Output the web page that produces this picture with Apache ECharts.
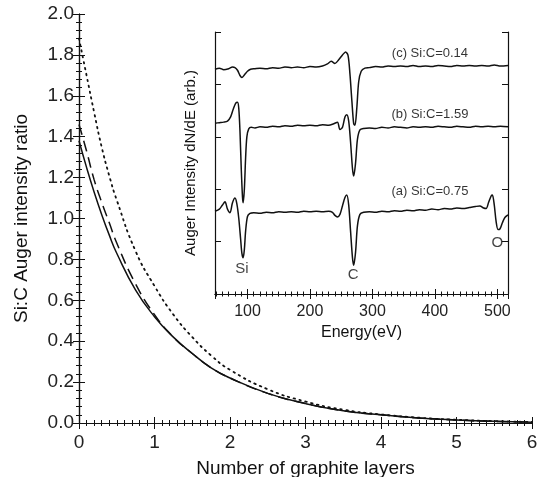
<!DOCTYPE html>
<html>
<head>
<meta charset="utf-8">
<script src="https://cdn.jsdelivr.net/npm/echarts@6/dist/echarts.min.js"></script>
<style>
  html, body { margin: 0; padding: 0; background: #fff; }
  #chart { width: 537px; height: 477px; }
</style>
</head>
<body>
<div id="chart"></div>
<script>
// main plot: Si:C ratio vs number of graphite layers
const layers = [0, 0.1, 0.2, 0.3, 0.4, 0.5, 0.75, 1, 1.25, 1.5, 1.75, 2, 2.5, 3, 3.5, 4, 4.5, 5, 5.5, 6]
const ratioSolid = [1.38, 1.25, 1.13, 1.02, 0.92, 0.83, 0.65, 0.52, 0.42, 0.34, 0.27, 0.22, 0.145, 0.095, 0.06, 0.04, 0.025, 0.015, 0.008, 0.004]
const ratioDashed = [1.46, 1.33, 1.19, 1.08, 0.98, 0.88, 0.68, 0.53, 0.42, 0.34, 0.27, 0.22, 0.145, 0.095, 0.06, 0.04, 0.025, 0.015, 0.008, 0.004]
const ratioDotted = [1.88, 1.70, 1.52, 1.35, 1.21, 1.09, 0.84, 0.67, 0.53, 0.42, 0.33, 0.26, 0.165, 0.105, 0.065, 0.042, 0.026, 0.016, 0.009, 0.005]

// inset: Auger spectra [energy eV, offset intensity]
const specC = [[48,4.29],[55,4.31],[62,4.28],[70,4.30],[76,4.33],[80,4.32],[84,4.27],[88,4.17],[91,4.13],[95,4.18],[100,4.25],[105,4.29],[112,4.30],[120,4.31],[130,4.30],[140,4.32],[150,4.31],[160,4.33],[170,4.32],[180,4.33],[190,4.32],[200,4.34],[210,4.33],[220,4.35],[228,4.39],[234,4.44],[240,4.40],[246,4.47],[252,4.56],[257,4.62],[261,4.55],[264,4.20],[267,3.70],[270,3.25],[272,3.22],[275,3.55],[278,4.05],[282,4.25],[288,4.31],[295,4.32],[305,4.34],[315,4.33],[325,4.35],[335,4.34],[345,4.35],[355,4.34],[365,4.36],[375,4.34],[385,4.35],[395,4.34],[405,4.36],[415,4.35],[425,4.34],[435,4.36],[445,4.35],[455,4.36],[465,4.35],[475,4.36],[485,4.35],[495,4.37],[505,4.35],[517,4.36]]
const specB = [[48,3.26],[55,3.27],[62,3.28],[68,3.30],[73,3.38],[77,3.52],[81,3.64],[84,3.66],[86,3.55],[88,3.10],[90,2.40],[92,1.85],[93,1.74],[95,2.00],[97,2.60],[99,3.00],[102,3.15],[106,3.18],[112,3.17],[120,3.19],[130,3.18],[140,3.20],[150,3.19],[160,3.21],[170,3.20],[180,3.22],[190,3.21],[200,3.22],[210,3.21],[220,3.23],[230,3.22],[238,3.25],[244,3.28],[248,3.14],[252,3.18],[256,3.38],[259,3.42],[262,3.30],[265,2.90],[268,2.40],[270,2.25],[273,2.50],[276,2.95],[280,3.13],[286,3.16],[295,3.17],[305,3.16],[315,3.18],[325,3.17],[335,3.19],[345,3.18],[355,3.17],[365,3.19],[375,3.18],[385,3.19],[395,3.18],[405,3.20],[415,3.19],[425,3.18],[435,3.20],[445,3.19],[455,3.18],[465,3.20],[475,3.19],[485,3.20],[495,3.19],[505,3.20],[517,3.19]]
const specA = [[48,1.58],[55,1.62],[60,1.70],[64,1.76],[68,1.62],[72,1.55],[76,1.74],[80,1.83],[83,1.72],[86,1.45],[89,1.05],[91,0.78],[93,0.69],[95,0.85],[97,1.20],[100,1.48],[104,1.54],[110,1.55],[120,1.54],[130,1.56],[140,1.55],[150,1.57],[160,1.56],[170,1.57],[180,1.56],[190,1.58],[200,1.57],[210,1.58],[220,1.57],[230,1.58],[236,1.56],[240,1.50],[244,1.47],[248,1.52],[252,1.68],[256,1.84],[259,1.89],[262,1.70],[265,1.20],[268,0.70],[270,0.55],[273,0.80],[276,1.30],[280,1.52],[286,1.56],[295,1.57],[305,1.56],[315,1.58],[325,1.57],[335,1.59],[345,1.58],[355,1.60],[365,1.59],[375,1.61],[385,1.60],[395,1.62],[405,1.61],[415,1.63],[425,1.62],[435,1.64],[445,1.63],[455,1.65],[465,1.67],[472,1.68],[478,1.64],[482,1.63],[486,1.75],[490,1.87],[492,1.89],[495,1.70],[498,1.38],[501,1.23],[504,1.24],[508,1.36],[512,1.46],[517,1.51]]

// annotation texts and their anchors in data units
const sampleLabels = ['(c) Si:C=0.14', '(b) Si:C=1.59', '(a) Si:C=0.75']
const sampleAnchors = [[392, 4.60], [392, 3.42], [392, 1.95]]
const peakLabels = ['Si', 'C', 'O']
const peakAnchors = [[91, 0.48], [269, 0.36], [500, 0.97]]

const FONT = 'Liberation Sans, Arial, sans-serif'
const INK = '#111'

function pairs(xs, ys) {
  return xs.map((x, i) => [x, ys[i]])
}

const chart = echarts.init(document.getElementById('chart'))

const lineAxis = { show: true, lineStyle: { color: INK, width: 1.2 } }

const option = {
  backgroundColor: '#fff',
  animation: false,
  textStyle: { fontFamily: FONT },
  grid: [
    { left: 79, right: 5, top: 14, bottom: 54, containLabel: false, outerBoundsMode: 'none' },
    {
      left: 215, right: 29, top: 32, bottom: 183, containLabel: false, outerBoundsMode: 'none',
      show: true, backgroundColor: '#fff', borderWidth: 0, z: 4
    }
  ],
  xAxis: [
    {
      // main bottom
      type: 'value', gridIndex: 0, min: 0, max: 6, interval: 1,
      position: 'bottom',
      name: 'Number of graphite layers', nameLocation: 'middle', nameGap: 36,
      nameTextStyle: { fontSize: 19, color: INK, fontFamily: FONT },
      axisLine: lineAxis,
      axisTick: { inside: true, length: 6, lineStyle: { color: INK } },
      minorTick: { show: true, splitNumber: 10, length: 3, lineStyle: { color: INK } },
      axisLabel: { fontSize: 19, color: '#222', margin: 10, fontFamily: FONT },
      splitLine: { show: false }
    },
    {
      // main top (ticks only)
      type: 'value', gridIndex: 0, min: 0, max: 6, interval: 1,
      position: 'top',
      axisLine: lineAxis,
      axisTick: { inside: true, length: 6, lineStyle: { color: INK } },
      minorTick: { show: true, splitNumber: 10, length: 3, lineStyle: { color: INK } },
      axisLabel: { show: false },
      splitLine: { show: false }
    },
    {
      // inset bottom
      type: 'value', gridIndex: 1, min: 48, max: 517,
      position: 'bottom', z: 6,
      name: 'Energy(eV)', nameLocation: 'middle', nameGap: 29,
      nameTextStyle: { fontSize: 16, color: INK, fontFamily: FONT },
      axisLine: lineAxis,
      axisTick: { inside: true, length: 5, lineStyle: { color: INK } },
      minorTick: { show: true, splitNumber: 10, length: 2.5, lineStyle: { color: INK } },
      axisLabel: {
        fontSize: 16, color: '#222', margin: 10, fontFamily: FONT,
        showMinLabel: false, showMaxLabel: false,
        formatter: v => (v % 100 === 0 ? String(v) : '')
      },
      splitLine: { show: false }
    },
    {
      // inset top
      type: 'value', gridIndex: 1, min: 48, max: 517,
      position: 'top', z: 6,
      axisLine: lineAxis,
      axisTick: { inside: true, length: 5, lineStyle: { color: INK } },
      minorTick: { show: true, splitNumber: 10, length: 2.5, lineStyle: { color: INK } },
      axisLabel: { show: false },
      splitLine: { show: false }
    }
  ],
  yAxis: [
    {
      type: 'value', gridIndex: 0, min: 0, max: 2, interval: 0.2,
      position: 'left',
      name: 'Si:C Auger intensity ratio', nameLocation: 'middle', nameGap: 48,
      nameTextStyle: { fontSize: 19, color: INK, fontFamily: FONT },
      axisLine: lineAxis,
      axisTick: { inside: true, length: 6, lineStyle: { color: INK } },
      minorTick: { show: true, splitNumber: 5, length: 3, lineStyle: { color: INK } },
      axisLabel: { fontSize: 19, color: '#222', margin: 5, fontFamily: FONT, formatter: v => v.toFixed(1) },
      splitLine: { show: false }
    },
    {
      type: 'value', gridIndex: 0, min: 0, max: 2, interval: 0.2,
      position: 'right',
      axisLine: lineAxis,
      axisTick: { inside: true, length: 6, lineStyle: { color: INK } },
      minorTick: { show: true, splitNumber: 5, length: 3, lineStyle: { color: INK } },
      axisLabel: { show: false },
      splitLine: { show: false }
    },
    {
      type: 'value', gridIndex: 1, min: 0, max: 5, interval: 1,
      position: 'left', z: 6,
      name: 'Auger Intensity dN/dE (arb.)', nameLocation: 'middle', nameGap: 17,
      nameTextStyle: { fontSize: 15, color: INK, fontFamily: FONT },
      axisLine: lineAxis,
      axisTick: { inside: true, length: 6, lineStyle: { color: INK } },
      axisLabel: { show: false },
      splitLine: { show: false }
    },
    {
      type: 'value', gridIndex: 1, min: 0, max: 5, interval: 1,
      position: 'right', z: 6,
      axisLine: lineAxis,
      axisTick: { inside: true, length: 6, lineStyle: { color: INK } },
      axisLabel: { show: false },
      splitLine: { show: false }
    }
  ],
  series: [
    {
      name: 'dotted', type: 'line', xAxisIndex: 0, yAxisIndex: 0,
      data: pairs(layers, ratioDotted), smooth: true, showSymbol: false,
      lineStyle: { color: INK, width: 1.8, type: [1.5, 4.5], cap: 'round' }, z: 2
    },
    {
      name: 'dashed', type: 'line', xAxisIndex: 0, yAxisIndex: 0,
      data: pairs(layers, ratioDashed), smooth: true, showSymbol: false,
      lineStyle: { color: INK, width: 1.5, type: [11, 6] }, z: 2
    },
    {
      name: 'solid', type: 'line', xAxisIndex: 0, yAxisIndex: 0,
      data: pairs(layers, ratioSolid), smooth: true, showSymbol: false,
      lineStyle: { color: INK, width: 1.5 }, z: 2
    },
    {
      name: 'c', type: 'line', xAxisIndex: 2, yAxisIndex: 2, data: specC,
      smooth: 0.3, showSymbol: false, lineStyle: { color: INK, width: 1.5 }, z: 7
    },
    {
      name: 'b', type: 'line', xAxisIndex: 2, yAxisIndex: 2, data: specB,
      smooth: 0.3, showSymbol: false, lineStyle: { color: INK, width: 1.5 }, z: 7
    },
    {
      name: 'a', type: 'line', xAxisIndex: 2, yAxisIndex: 2, data: specA,
      smooth: 0.3, showSymbol: false, lineStyle: { color: INK, width: 1.5 }, z: 7
    },
    {
      name: 'sampleText', type: 'scatter', xAxisIndex: 2, yAxisIndex: 2, z: 8,
      symbolSize: 1, itemStyle: { color: 'rgba(0,0,0,0)' },
      data: sampleAnchors.map((p, i) => ({ value: p, name: sampleLabels[i] })),
      label: { show: true, position: 'inside', formatter: '{b}', fontSize: 13, color: '#000', fontFamily: FONT }
    },
    {
      name: 'peakText', type: 'scatter', xAxisIndex: 2, yAxisIndex: 2, z: 8,
      symbolSize: 1, itemStyle: { color: 'rgba(0,0,0,0)' },
      data: peakAnchors.map((p, i) => ({ value: p, name: peakLabels[i] })),
      label: { show: true, position: 'inside', formatter: '{b}', fontSize: 15, color: INK, fontFamily: FONT }
    }
  ]
}

chart.setOption(option)
</script>
</body>
</html>
